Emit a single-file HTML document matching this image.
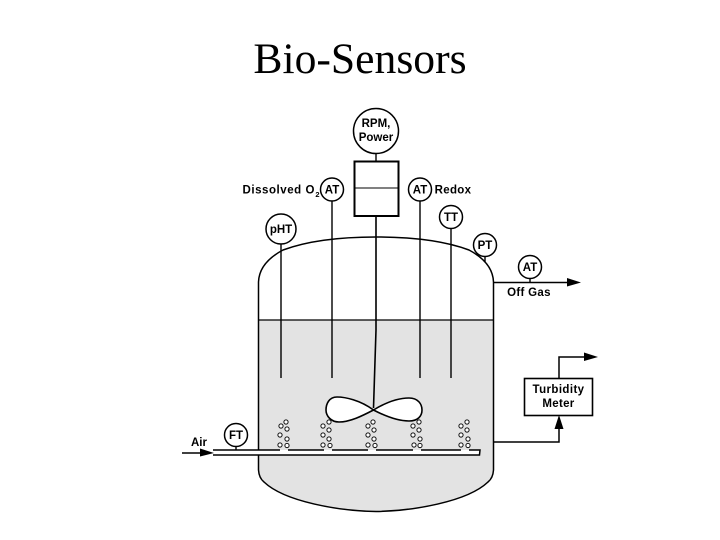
<!DOCTYPE html>
<html><head><meta charset="utf-8"><style>
html,body{margin:0;padding:0;background:#fff}
svg{display:block}
text{font-family:"Liberation Sans",sans-serif;font-weight:bold;font-size:11.5px;fill:#000;text-anchor:middle}
</style></head><body>
<svg width="720" height="540" viewBox="0 0 720 540" xmlns="http://www.w3.org/2000/svg">
<text x="360" y="73" style="font-family:'Liberation Serif',serif;font-weight:normal;font-size:43.6px">Bio-Sensors</text>
<!-- liquid -->
<path d="M258.5 320H493.5V470Q493 478 488 482C467 502 412 512 376 512C340 512 285 502 264 482Q259 478 258.5 470Z" fill="#e3e3e3"/>
<!-- vessel -->
<path d="M258.5 470V282C259 268 268 258 283 250C310 240 345 237 376 237C407 237 442 240 469 250C484 258 493 268 493.500 282V470Q493 478 488 482C467 502 412 511 376 511.500C340 511 285 502 264 482Q259 478 258.500 470Z" fill="none" stroke="#000" stroke-width="1.5"/>
<path d="M258.5 320H493.5" stroke="#000" stroke-width="1.2"/>
<!-- sparger fill -->
<rect x="213" y="450" width="267" height="5" fill="#fff"/>
<!-- probes -->
<g stroke="#000" stroke-width="1.4" fill="none">
<path d="M281 244V378M332 201V378M420 201V378M451 229V378"/>
<path d="M376 216V330L373.500 408" stroke-width="1.6"/>
<path d="M376 153V161M485 256.500V262M530 278.500V282.500M236 446V450"/>
<!-- impeller -->
<path d="M373.500 410C360 400 345 397 337 397C329 397 326 404 326 410C326 416 331 422 339 422C350 422 362 416 373.500 410C385 403 398 398 409 398C418 398 422 404 422 410C422 416 418 421 409 421C398 421 385 416 373.500 410Z" fill="#fff" stroke-width="1.6"/>
<!-- sparger -->
<path d="M213 450H280M288 450H324M332 450H368M376 450H413M421 450H461M469 450H480L479.500 455H213" stroke-width="1.5"/>
<!-- lines -->
<path d="M182 453H205" stroke-width="1.6"/>
<path d="M494 282.500H570M494 442H559V425M559 378V357H585" stroke-width="1.5"/>
</g>
<g fill="#000">
<path d="M200 448.500L214 453L200 456.500Z"/>
<path d="M567 278L581 282.500L567 286.500Z"/>
<path d="M584 352.500L598 357L584 361Z"/>
<path d="M559 415L563.500 429H554.500Z"/>
</g>
<!-- box -->
<rect x="354.500" y="161.500" width="44" height="54.500" fill="#fff" stroke="#000" stroke-width="2"/>
<path d="M355 188H398" stroke="#000"/>
<rect x="524.500" y="378.500" width="68" height="37" fill="#fff" stroke="#000" stroke-width="1.6"/>
<!-- instrument circles -->
<g fill="#fff" stroke="#000" stroke-width="1.5">
<circle cx="376" cy="131" r="22.500"/>
<circle cx="332" cy="189.500" r="11.500"/>
<circle cx="420" cy="189.500" r="11.500"/>
<circle cx="451" cy="217" r="11.500"/>
<circle cx="281" cy="229" r="15"/>
<circle cx="485" cy="245" r="11.500"/>
<circle cx="530" cy="267" r="11.500"/>
<circle cx="236" cy="435" r="11.500"/>
</g>
<!-- bubbles -->
<g fill="#fff" stroke="#111" stroke-width="1">
<circle cx="286" cy="422" r="2.100"/><circle cx="281" cy="426" r="2.100"/><circle cx="287" cy="429" r="2.100"/><circle cx="280" cy="435" r="2.100"/><circle cx="287" cy="439" r="2.100"/><circle cx="280" cy="445" r="2.100"/><circle cx="287" cy="445.500" r="2.100"/>
<circle cx="329" cy="422" r="2.100"/><circle cx="323" cy="426" r="2.100"/><circle cx="329" cy="430" r="2.100"/><circle cx="323" cy="435" r="2.100"/><circle cx="329" cy="439" r="2.100"/><circle cx="323" cy="445" r="2.100"/><circle cx="330" cy="445.500" r="2.100"/>
<circle cx="373" cy="422" r="2.100"/><circle cx="368" cy="426" r="2.100"/><circle cx="374" cy="430" r="2.100"/><circle cx="368" cy="435" r="2.100"/><circle cx="374" cy="439" r="2.100"/><circle cx="368" cy="445" r="2.100"/><circle cx="375" cy="445.500" r="2.100"/>
<circle cx="419" cy="422" r="2.100"/><circle cx="413" cy="426" r="2.100"/><circle cx="419" cy="430" r="2.100"/><circle cx="413" cy="435" r="2.100"/><circle cx="420" cy="439" r="2.100"/><circle cx="414" cy="445" r="2.100"/><circle cx="420" cy="445.500" r="2.100"/>
<circle cx="467" cy="422" r="2.100"/><circle cx="461" cy="426" r="2.100"/><circle cx="467" cy="430" r="2.100"/><circle cx="461" cy="435" r="2.100"/><circle cx="468" cy="439" r="2.100"/><circle cx="461" cy="445" r="2.100"/><circle cx="468" cy="445.500" r="2.100"/>
</g>
<!-- labels -->
<text x="376" y="127">RPM,</text>
<text x="376" y="141">Power</text>
<text x="332" y="193.500">AT</text>
<text x="420" y="193.500">AT</text>
<text x="451" y="221">TT</text>
<text x="281" y="233">pHT</text>
<text x="485" y="249">PT</text>
<text x="530" y="271">AT</text>
<text x="236" y="439">FT</text>
<text x="315" y="193.500" style="text-anchor:end;letter-spacing:.55px">Dissolved O</text>
<text x="317.500" y="197" style="font-size:7.500px">2</text>
<text x="453" y="193.500" style="letter-spacing:.3px">Redox</text>
<text x="529" y="296" style="letter-spacing:.3px">Off Gas</text>
<text x="199" y="446">Air</text>
<text x="558.500" y="393" style="letter-spacing:.4px">Turbidity</text>
<text x="558.500" y="407" style="letter-spacing:.3px">Meter</text>
</svg>
</body></html>
